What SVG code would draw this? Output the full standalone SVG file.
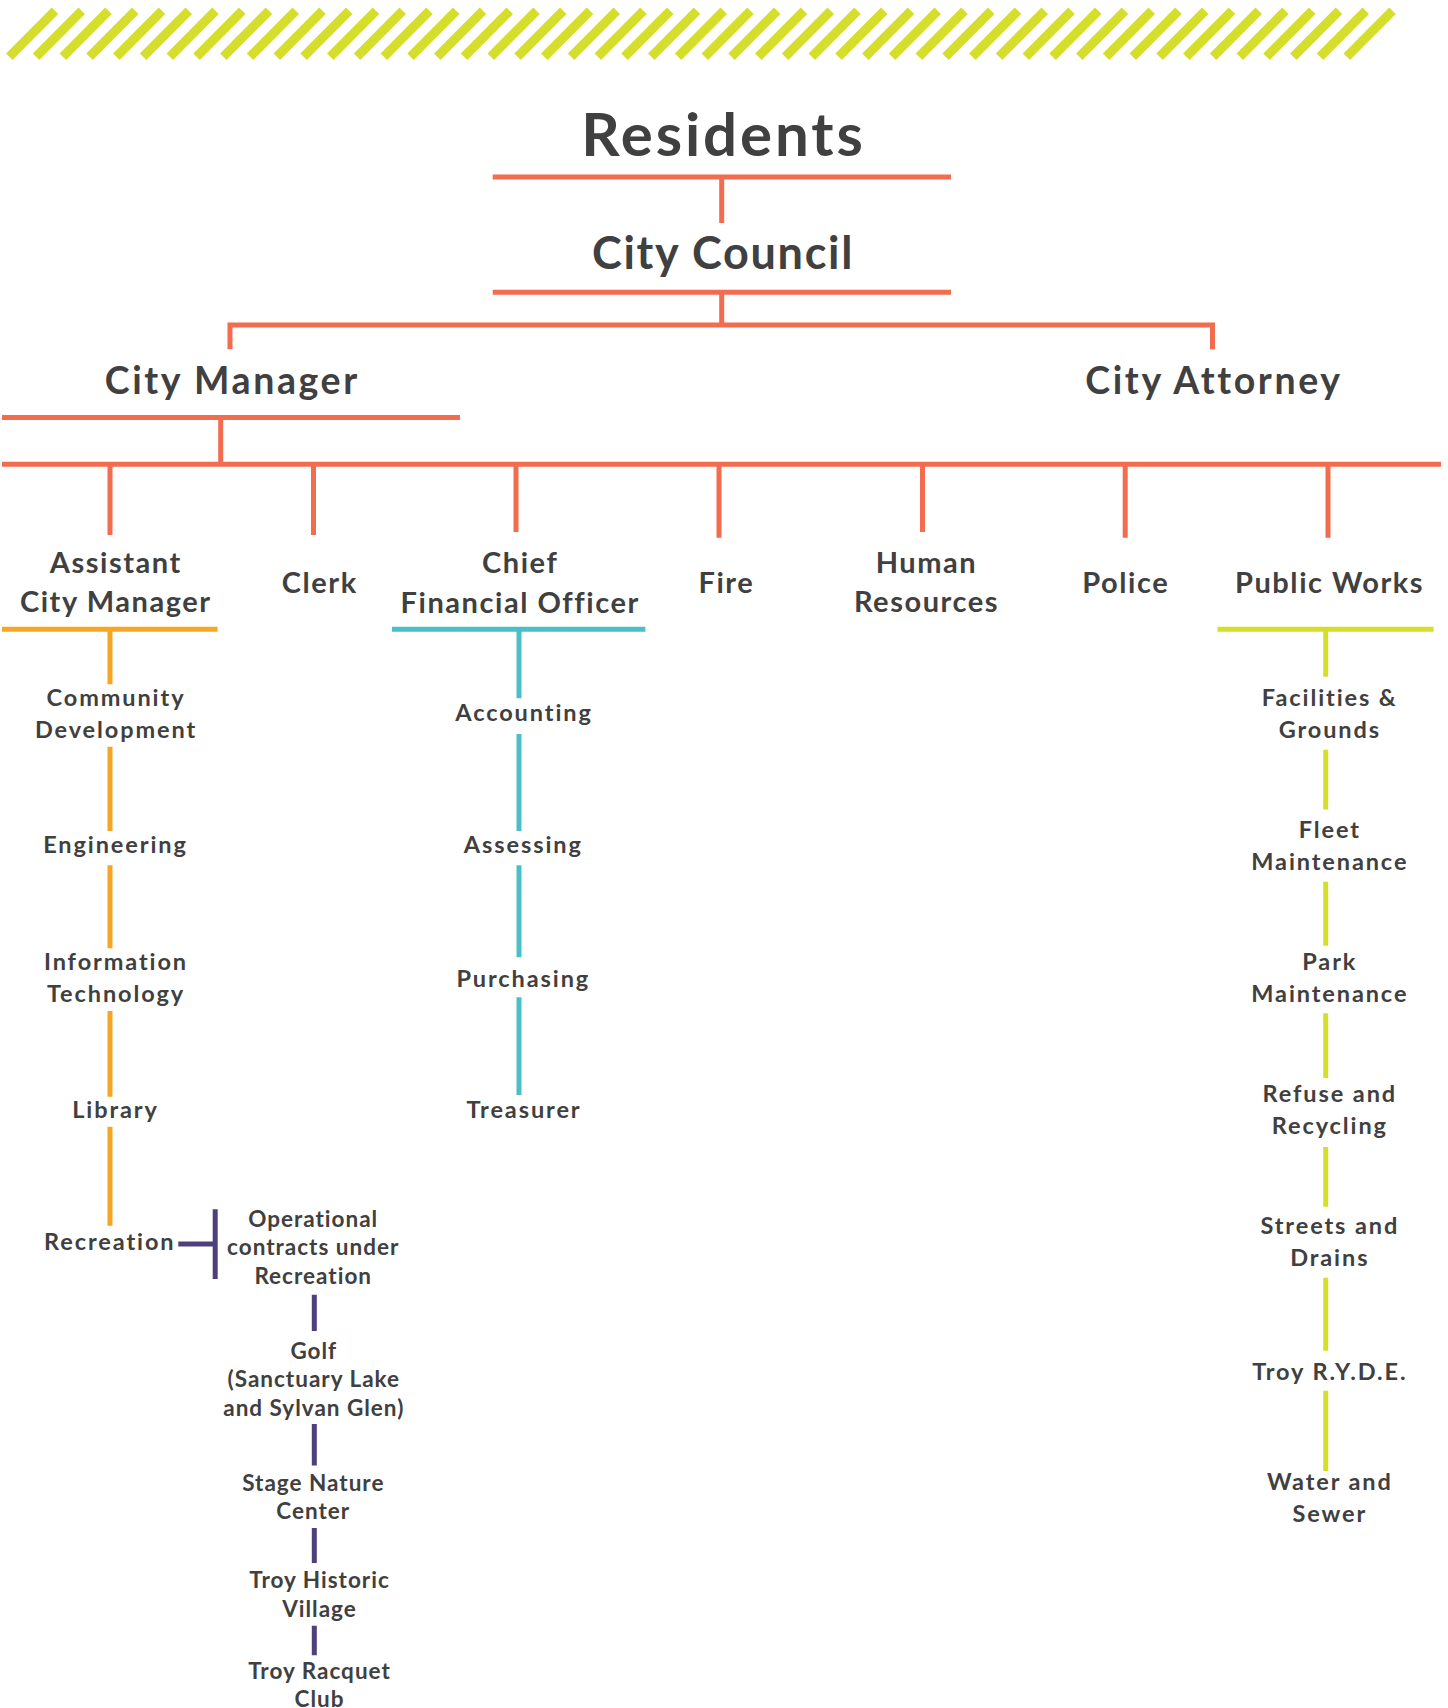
<svg xmlns="http://www.w3.org/2000/svg" width="1448" height="1708" viewBox="0 0 1448 1708">
<style>
text{font-family:Lato,"Noto Sans","Liberation Sans",sans-serif;font-weight:700;fill:#404040;text-anchor:middle}
.t1{font-size:60px;letter-spacing:2.9px}
.t2{font-size:45px;letter-spacing:1.7px}
.t3{font-size:37.5px;letter-spacing:2.6px}
.t4{font-size:29px;letter-spacing:1.55px}
.t5{font-size:23.5px;letter-spacing:1.9px}
.t6{font-size:22.5px;letter-spacing:1px}
.ln{fill:none;stroke-width:5;stroke-linecap:butt}
.sal{stroke:#f26c4f}
.org{stroke:#f5a623}
.tea{stroke:#4bbfc8}
.ylw{stroke:#d5df2b}
.pur{stroke:#4e3f7d}
</style>
<rect width="1448" height="1708" fill="#ffffff"/>
<path id="stripes" fill="none" stroke="#d5df2b" stroke-width="9.2" d="M9.3 56.7l45.7-46M36.05 56.7l45.7-46M62.8 56.7l45.7-46M89.55 56.7l45.7-46M116.3 56.7l45.7-46M143.05 56.7l45.7-46M169.8 56.7l45.7-46M196.55 56.7l45.7-46M223.3 56.7l45.7-46M250.05 56.7l45.7-46M276.8 56.7l45.7-46M303.55 56.7l45.7-46M330.3 56.7l45.7-46M357.05 56.7l45.7-46M383.8 56.7l45.7-46M410.55 56.7l45.7-46M437.3 56.7l45.7-46M464.05 56.7l45.7-46M490.8 56.7l45.7-46M517.55 56.7l45.7-46M544.3 56.7l45.7-46M571.05 56.7l45.7-46M597.8 56.7l45.7-46M624.55 56.7l45.7-46M651.3 56.7l45.7-46M678.05 56.7l45.7-46M704.8 56.7l45.7-46M731.55 56.7l45.7-46M758.3 56.7l45.7-46M785.05 56.7l45.7-46M811.8 56.7l45.7-46M838.55 56.7l45.7-46M865.3 56.7l45.7-46M892.05 56.7l45.7-46M918.8 56.7l45.7-46M945.55 56.7l45.7-46M972.3 56.7l45.7-46M999.05 56.7l45.7-46M1025.8 56.7l45.7-46M1052.55 56.7l45.7-46M1079.3 56.7l45.7-46M1106.05 56.7l45.7-46M1132.8 56.7l45.7-46M1159.55 56.7l45.7-46M1186.3 56.7l45.7-46M1213.05 56.7l45.7-46M1239.8 56.7l45.7-46M1266.55 56.7l45.7-46M1293.3 56.7l45.7-46M1320.05 56.7l45.7-46M1346.8 56.7l45.7-46"/>
<g id="connectors">
<path class="ln sal" d="M492.7 177H951M721.7 177V223M492.7 292.3H951M721.7 292V325M230 349.3V325H1212.5V349.3M2 417.5H460M220.7 417.5V464M2 464.3H1441M110 464V535M313.5 464V535M516 464V532M719 464V537.7M922.5 464V532M1125.2 464V537.7M1328 464V537.7"/>
<path class="ln org" d="M2 629.3H217.5M110 629V684.3M110 746.7V831M110 865.3V948.3M110 1011V1096.7M110 1126.7V1225.8"/>
<path class="ln tea" d="M392 629.3H645.4M519 629V698.3M519 734V831M519 865.3V957.3M519 997.3V1095"/>
<path class="ln ylw" d="M1217.5 629.3H1433.6M1325.7 629V676.8M1325.7 749.8V809.4M1325.7 881.7V945.8M1325.7 1013.2V1078M1325.7 1147V1206.7M1325.7 1277.7V1350.7M1325.7 1390.7V1471"/>
<path class="ln pur" d="M178.3 1244H215M215.2 1209.3V1279M314.3 1294.8V1330.9M314.3 1424.1V1465.4M314.3 1528V1563.1M314.3 1625.8V1655.3"/>
</g>
<g id="residents"><text class="t1" x="723.5" y="156">Residents</text></g>
<g id="city-council"><text class="t2" x="723" y="269">City Council</text></g>
<g id="city-manager"><text class="t3" x="232.3" y="393.5">City Manager</text></g>
<g id="city-attorney"><text class="t3" x="1214" y="393.5">City Attorney</text></g>
<g id="assistant-city-manager"><text class="t4" x="115.8" y="573.3">Assistant</text><text class="t4" x="115.8" y="611.7">City Manager</text></g>
<g id="clerk"><text class="t4" x="319.8" y="593">Clerk</text></g>
<g id="cfo"><text class="t4" x="520.2" y="573">Chief</text><text class="t4" x="520.2" y="612.5">Financial Officer</text></g>
<g id="fire"><text class="t4" x="726.4" y="593">Fire</text></g>
<g id="human-resources"><text class="t4" x="926.5" y="573">Human</text><text class="t4" x="926.5" y="611.7">Resources</text></g>
<g id="police"><text class="t4" x="1125.8" y="593">Police</text></g>
<g id="public-works"><text class="t4" x="1329.6" y="593">Public Works</text></g>
<g id="community-development"><text class="t5" x="116" y="705.7">Community</text><text class="t5" x="116" y="737.7">Development</text></g>
<g id="engineering"><text class="t5" x="115.5" y="853.3">Engineering</text></g>
<g id="information-technology"><text class="t5" x="116" y="970">Information</text><text class="t5" x="116" y="1001.7">Technology</text></g>
<g id="library"><text class="t5" x="115.5" y="1117.7">Library</text></g>
<g id="recreation"><text class="t5" x="109.8" y="1249.8">Recreation</text></g>
<g id="accounting"><text class="t5" x="524" y="721">Accounting</text></g>
<g id="assessing"><text class="t5" x="523.3" y="853.3">Assessing</text></g>
<g id="purchasing"><text class="t5" x="523.3" y="986.7">Purchasing</text></g>
<g id="treasurer"><text class="t5" x="524" y="1117.7">Treasurer</text></g>
<g id="operational-contracts"><text class="t6" x="313.2" y="1226.6">Operational</text><text class="t6" x="313.2" y="1255.3">contracts under</text><text class="t6" x="313.2" y="1284.1">Recreation</text></g>
<g id="golf"><text class="t6" x="313.8" y="1358.5">Golf</text><text class="t6" x="313.8" y="1387.3">(Sanctuary Lake</text><text class="t6" x="313.8" y="1416">and Sylvan Glen)</text></g>
<g id="stage-nature-center"><text class="t6" x="313.3" y="1491.2">Stage Nature</text><text class="t6" x="313.3" y="1519.2">Center</text></g>
<g id="troy-historic-village"><text class="t6" x="319.5" y="1588.2">Troy Historic</text><text class="t6" x="319.5" y="1617.3">Village</text></g>
<g id="troy-racquet-club"><text class="t6" x="319.5" y="1679.2">Troy Racquet</text><text class="t6" x="319.5" y="1706.9">Club</text></g>
<g id="facilities-grounds"><text class="t5" x="1329.8" y="706">Facilities &amp;</text><text class="t5" x="1329.8" y="738.1">Grounds</text></g>
<g id="fleet-maintenance"><text class="t5" x="1329.8" y="838">Fleet</text><text class="t5" x="1329.8" y="869.7">Maintenance</text></g>
<g id="park-maintenance"><text class="t5" x="1329.8" y="970.2">Park</text><text class="t5" x="1329.8" y="1001.5">Maintenance</text></g>
<g id="refuse-recycling"><text class="t5" x="1329.8" y="1102.1">Refuse and</text><text class="t5" x="1329.8" y="1133.8">Recycling</text></g>
<g id="streets-drains"><text class="t5" x="1329.8" y="1234">Streets and</text><text class="t5" x="1329.8" y="1265.7">Drains</text></g>
<g id="troy-ryde"><text class="t5" x="1329.8" y="1380">Troy R.Y.D.E.</text></g>
<g id="water-sewer"><text class="t5" x="1329.8" y="1490">Water and</text><text class="t5" x="1329.8" y="1521.7">Sewer</text></g>
</svg>
